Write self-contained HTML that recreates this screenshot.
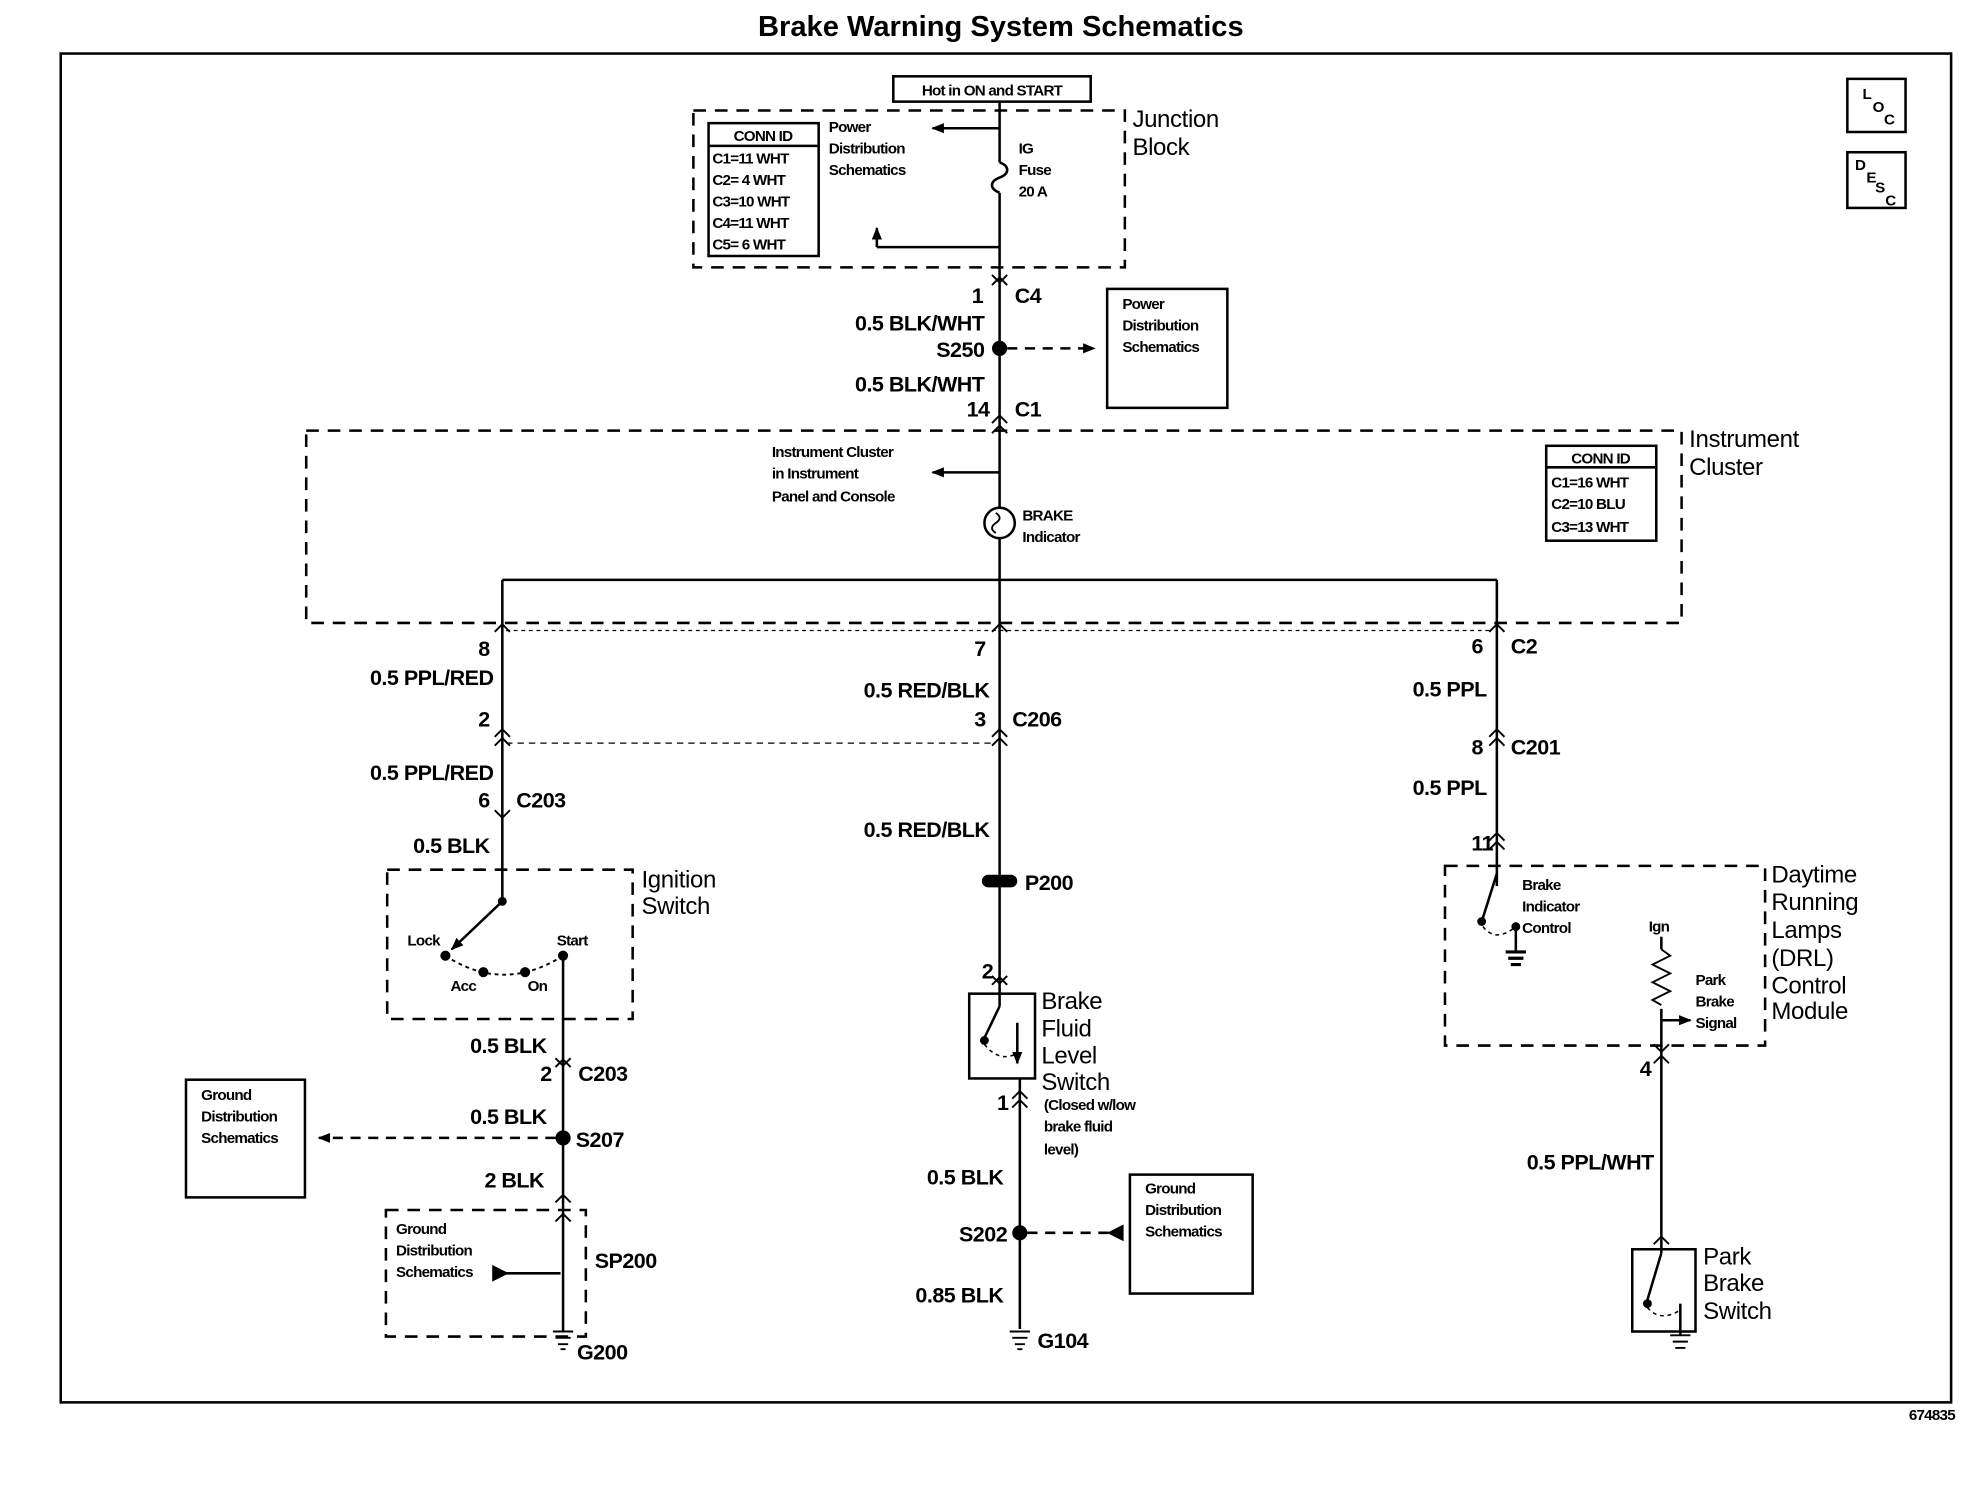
<!DOCTYPE html>
<html><head><meta charset="utf-8"><style>
html,body{margin:0;padding:0;background:#fff;}
svg{display:block;}
text{font-family:"Liberation Sans",Arial,sans-serif;fill:#000;}
.w{font-size:17px;font-weight:bold;letter-spacing:-0.4px;}
.s{font-size:12px;font-weight:bold;letter-spacing:-0.6px;}
.l{font-size:19px;letter-spacing:-0.3px;}
</style></head><body>
<svg width="1984" height="1504" viewBox="0 0 1568 1188" xmlns="http://www.w3.org/2000/svg">
<defs>
<marker id="ah" markerWidth="10" markerHeight="10" refX="9" refY="5" orient="auto" markerUnits="userSpaceOnUse"><path d="M0,1 L10,5 L0,9 Z" fill="#000"/></marker>
</defs>
<g stroke="#000" fill="none" stroke-width="2">
<text x="791" y="28" text-anchor="middle" font-size="23" font-weight="bold" stroke="none">Brake Warning System Schematics</text>
<rect x="48" y="42" width="1494" height="1066"/>
<rect x="1460" y="62" width="46" height="42"/>
<rect x="1460" y="120" width="46" height="44"/>
<rect x="706" y="60" width="156" height="20"/>
<rect x="548" y="87" width="341" height="124" stroke-dasharray="10,7"/>
<rect x="560" y="97" width="87" height="105"/>
<line x1="560" y1="115" x2="647" y2="115"/>
<line x1="790" y1="80" x2="790" y2="128"/>
<line x1="790" y1="101" x2="737" y2="101" marker-end="url(#ah)"/>
<path d="M790,128 c8,3 8,9 0,12 c-8,3 -8,9 0,12"/>
<line x1="790" y1="152" x2="790" y2="340"/>
<line x1="790" y1="195" x2="693" y2="195"/>
<line x1="693" y1="195" x2="693" y2="180" marker-end="url(#ah)"/>
<path d="M784,217 l6,6 l6,-6 M784,225 l6,-6 l6,6" stroke-width="1.5"/>
<circle cx="790" cy="275" r="5" fill="#000"/>
<line x1="796" y1="275" x2="865" y2="275" stroke-dasharray="8,6" marker-end="url(#ah)"/>
<rect x="875" y="228" width="95" height="94"/>
<path d="M784,334 l6,-6 l6,6 M784,342 l6,-6 l6,6" stroke-width="1.5"/>
<rect x="242" y="340" width="1087" height="152" stroke-dasharray="10,7"/>
<line x1="790" y1="340" x2="790" y2="401"/>
<line x1="790" y1="373" x2="737" y2="373" marker-end="url(#ah)"/>
<circle cx="790" cy="413" r="12"/>
<path d="M787,405 q6,4 0,8 q-6,4 0,8" stroke-width="1.5"/>
<line x1="790" y1="425" x2="790" y2="498"/>
<rect x="1222" y="352" width="87" height="75"/>
<line x1="1222" y1="369" x2="1309" y2="369"/>
<line x1="397" y1="458" x2="1183" y2="458"/>
<line x1="397" y1="458" x2="397" y2="712"/>
<line x1="1183" y1="458" x2="1183" y2="700"/>
<line x1="400" y1="498" x2="1180" y2="498" stroke-dasharray="3,3" stroke-width="1"/>
<path d="M391,499 l6,-6 l6,6 M784,499 l6,-6 l6,6 M1177,499 l6,-6 l6,6" stroke-width="1.5"/>
<line x1="790" y1="498" x2="790" y2="785"/>
<line x1="400" y1="587" x2="787" y2="587" stroke-dasharray="5,4" stroke-width="1"/>
<path d="M391,582 l6,-6 l6,6 M391,589 l6,-6 l6,6 M784,582 l6,-6 l6,6 M784,589 l6,-6 l6,6 M1177,582 l6,-6 l6,6 M1177,589 l6,-6 l6,6" stroke-width="1.5"/>
<path d="M391,640 l6,6 l6,-6 M1177,664 l6,-6 l6,6 M1177,671 l6,-6 l6,6" stroke-width="1.5"/>
<rect x="306" y="687" width="194" height="118" stroke-dasharray="10,7"/>
<circle cx="397" cy="712" r="2.5" fill="#000"/>
<line x1="397" y1="712" x2="357" y2="750" marker-end="url(#ah)"/>
<path d="M352,755 Q398,785 445,755" stroke-dasharray="3,3" stroke-width="1.5"/>
<circle cx="352" cy="755" r="3" fill="#000"/><circle cx="382" cy="768" r="3" fill="#000"/><circle cx="415" cy="768" r="3" fill="#000"/><circle cx="445" cy="755" r="3" fill="#000"/>
<line x1="445" y1="755" x2="445" y2="1052"/>
<path d="M439,836 l6,6 l6,-6 M439,843 l6,-6 l6,6 M439,950 l6,-6 l6,6" stroke-width="1.5"/>
<circle cx="445" cy="899" r="5" fill="#000"/>
<line x1="439" y1="899" x2="252" y2="899" stroke-dasharray="8,6" marker-end="url(#ah)"/>
<rect x="147" y="853" width="94" height="93"/>
<rect x="305" y="956" width="158" height="100" stroke-dasharray="10,7"/>
<path d="M439,965 l6,-6 l6,6" stroke-width="1.5"/>
<line x1="392" y1="1006" x2="443" y2="1006"/>
<path d="M390,1001 L400,1006 L390,1011 Z" fill="#000"/>
<path d="M437,1052 h16 M439,1057 h12 M441,1062 h8 M443,1066 h4" stroke-width="1.5"/>
<rect x="777" y="692" width="26" height="8" rx="4" fill="#000"/>
<path d="M784,771 l6,6 l6,-6 M784,778 l6,-6 l6,6" stroke-width="1.5"/>
<rect x="766" y="785" width="52" height="67"/>
<line x1="790" y1="785" x2="790" y2="795"/>
<line x1="790" y1="795" x2="778" y2="820"/>
<circle cx="778" cy="822" r="2.5" fill="#000"/>
<path d="M778,825 Q790,840 804,832" stroke-dasharray="3,3" stroke-width="1.2"/>
<line x1="804" y1="808" x2="804" y2="840" marker-end="url(#ah)"/>
<line x1="806" y1="852" x2="806" y2="1050"/>
<path d="M800,868 l6,-6 l6,6 M800,875 l6,-6 l6,6" stroke-width="1.5"/>
<circle cx="806" cy="974" r="5" fill="#000"/>
<line x1="812" y1="974" x2="885" y2="974" stroke-dasharray="8,6"/>
<path d="M887,969 L877,974 L887,979 Z" fill="#000"/>
<rect x="893" y="928" width="97" height="94"/>
<path d="M798,1052 h16 M800,1057 h12 M802,1062 h8 M804,1066 h4" stroke-width="1.5"/>
<rect x="1142" y="684" width="253" height="142" stroke-dasharray="10,7"/>
<line x1="1183" y1="690" x2="1172" y2="725"/>
<circle cx="1171" cy="728" r="2.5" fill="#000"/>
<path d="M1172,732 Q1182,745 1198,732" stroke-dasharray="3,3" stroke-width="1.2"/>
<circle cx="1198" cy="732" r="2.5" fill="#000"/>
<line x1="1198" y1="732" x2="1198" y2="752"/>
<path d="M1190,752 h16 M1192,757 h12 M1194,762 h8" stroke-width="2.5"/>
<line x1="1313" y1="740" x2="1313" y2="750"/>
<path d="M1313,750 l7,5 l-14,7 l14,7 l-14,7 l14,7 l-14,7 l7,4" stroke-width="1.5"/>
<line x1="1313" y1="797" x2="1313" y2="990"/>
<line x1="1313" y1="806" x2="1336" y2="806" marker-end="url(#ah)"/>
<path d="M1307,825 l6,6 l6,-6 M1307,840 l6,-6 l6,6 M1307,983 l6,-6 l6,6" stroke-width="1.5"/>
<rect x="1290" y="987" width="50" height="65"/>
<line x1="1313" y1="990" x2="1302" y2="1027"/>
<circle cx="1302" cy="1030" r="2.5" fill="#000"/>
<path d="M1302,1033 Q1312,1045 1328,1035" stroke-dasharray="3,3" stroke-width="1.2"/>
<line x1="1328" y1="1030" x2="1328" y2="1055"/>
<path d="M1320,1055 h16 M1322,1060 h12 M1324,1065 h8" stroke-width="1.5"/>
</g>
<g>
<text x="1472" y="78" class="s">L</text><text x="1480" y="88" class="s">O</text><text x="1489" y="98" class="s">C</text>
<text x="1466" y="134" class="s">D</text><text x="1475" y="144" class="s">E</text><text x="1482" y="152" class="s">S</text><text x="1490" y="162" class="s">C</text>
<text x="784" y="75" text-anchor="middle" class="s" font-size="13">Hot in ON and START</text>
<text x="603" y="111" text-anchor="middle" class="s">CONN ID</text>
<text x="563" y="129" class="s">C1=11 WHT</text><text x="563" y="146" class="s">C2= 4 WHT</text><text x="563" y="163" class="s">C3=10 WHT</text><text x="563" y="180" class="s">C4=11 WHT</text><text x="563" y="197" class="s">C5= 6 WHT</text>
<text x="655" y="104" class="s">Power</text><text x="655" y="121" class="s">Distribution</text><text x="655" y="138" class="s">Schematics</text>
<text x="805" y="121" class="s">IG</text><text x="805" y="138" class="s">Fuse</text><text x="805" y="155" class="s">20 A</text>
<text x="895" y="100" class="l">Junction</text><text x="895" y="122" class="l">Block</text>
<text x="777" y="239" text-anchor="end" class="w">1</text><text x="802" y="239" class="w">C4</text>
<text x="778" y="261" text-anchor="end" class="w">0.5 BLK/WHT</text>
<text x="778" y="282" text-anchor="end" class="w">S250</text>
<text x="887" y="244" class="s">Power</text><text x="887" y="261" class="s">Distribution</text><text x="887" y="278" class="s">Schematics</text>
<text x="778" y="309" text-anchor="end" class="w">0.5 BLK/WHT</text>
<text x="782" y="329" text-anchor="end" class="w">14</text><text x="802" y="329" class="w">C1</text>
<text x="1335" y="353" class="l">Instrument</text><text x="1335" y="375" class="l">Cluster</text>
<text x="610" y="361" class="s">Instrument Cluster</text><text x="610" y="378" class="s">in Instrument</text><text x="610" y="396" class="s">Panel and Console</text>
<text x="808" y="411" class="s">BRAKE</text><text x="808" y="428" class="s">Indicator</text>
<text x="1265" y="366" text-anchor="middle" class="s">CONN ID</text>
<text x="1226" y="385" class="s">C1=16 WHT</text><text x="1226" y="402" class="s">C2=10 BLU</text><text x="1226" y="420" class="s">C3=13 WHT</text>
<text x="387" y="518" text-anchor="end" class="w">8</text>
<text x="779" y="518" text-anchor="end" class="w">7</text>
<text x="1172" y="516" text-anchor="end" class="w">6</text><text x="1194" y="516" class="w">C2</text>
<text x="390" y="541" text-anchor="end" class="w">0.5 PPL/RED</text>
<text x="782" y="551" text-anchor="end" class="w">0.5 RED/BLK</text>
<text x="1175" y="550" text-anchor="end" class="w">0.5 PPL</text>
<text x="387" y="574" text-anchor="end" class="w">2</text>
<text x="779" y="574" text-anchor="end" class="w">3</text><text x="800" y="574" class="w">C206</text>
<text x="1172" y="596" text-anchor="end" class="w">8</text><text x="1194" y="596" class="w">C201</text>
<text x="390" y="616" text-anchor="end" class="w">0.5 PPL/RED</text>
<text x="1175" y="628" text-anchor="end" class="w">0.5 PPL</text>
<text x="387" y="638" text-anchor="end" class="w">6</text><text x="408" y="638" class="w">C203</text>
<text x="782" y="661" text-anchor="end" class="w">0.5 RED/BLK</text>
<text x="387" y="674" text-anchor="end" class="w">0.5 BLK</text>
<text x="1180" y="672" text-anchor="end" class="w">11</text>
<text x="507" y="701" class="l">Ignition</text><text x="507" y="722" class="l">Switch</text>
<text x="810" y="703" class="w">P200</text>
<text x="1400" y="697" class="l">Daytime</text><text x="1400" y="719" class="l">Running</text><text x="1400" y="741" class="l">Lamps</text><text x="1400" y="763" class="l">(DRL)</text><text x="1400" y="785" class="l">Control</text><text x="1400" y="805" class="l">Module</text>
<text x="1203" y="703" class="s">Brake</text><text x="1203" y="720" class="s">Indicator</text><text x="1203" y="737" class="s">Control</text>
<text x="1303" y="736" class="s">Ign</text>
<text x="1340" y="778" class="s">Park</text><text x="1340" y="795" class="s">Brake</text><text x="1340" y="812" class="s">Signal</text>
<text x="322" y="747" class="s">Lock</text><text x="440" y="747" class="s">Start</text><text x="356" y="783" class="s">Acc</text><text x="417" y="783" class="s">On</text>
<text x="785" y="773" text-anchor="end" class="w">2</text>
<text x="823" y="797" class="l">Brake</text><text x="823" y="819" class="l">Fluid</text><text x="823" y="840" class="l">Level</text><text x="823" y="861" class="l">Switch</text>
<text x="825" y="877" class="s">(Closed w/low</text><text x="825" y="894" class="s">brake fluid</text><text x="825" y="912" class="s">level)</text>
<text x="797" y="877" text-anchor="end" class="w">1</text>
<text x="432" y="832" text-anchor="end" class="w">0.5 BLK</text>
<text x="436" y="854" text-anchor="end" class="w">2</text><text x="457" y="854" class="w">C203</text>
<text x="1305" y="850" text-anchor="end" class="w">4</text>
<text x="159" y="869" class="s">Ground</text><text x="159" y="886" class="s">Distribution</text><text x="159" y="903" class="s">Schematics</text>
<text x="432" y="888" text-anchor="end" class="w">0.5 BLK</text>
<text x="455" y="906" class="w">S207</text>
<text x="1307" y="924" text-anchor="end" class="w">0.5 PPL/WHT</text>
<text x="793" y="936" text-anchor="end" class="w">0.5 BLK</text>
<text x="430" y="938" text-anchor="end" class="w">2 BLK</text>
<text x="905" y="943" class="s">Ground</text><text x="905" y="960" class="s">Distribution</text><text x="905" y="977" class="s">Schematics</text>
<text x="313" y="975" class="s">Ground</text><text x="313" y="992" class="s">Distribution</text><text x="313" y="1009" class="s">Schematics</text>
<text x="796" y="981" text-anchor="end" class="w">S202</text>
<text x="1346" y="999" class="l">Park</text><text x="1346" y="1020" class="l">Brake</text><text x="1346" y="1042" class="l">Switch</text>
<text x="470" y="1002" class="w">SP200</text>
<text x="793" y="1029" text-anchor="end" class="w">0.85 BLK</text>
<text x="820" y="1065" class="w">G104</text>
<text x="456" y="1074" class="w">G200</text>
<text x="1545" y="1122" text-anchor="end" class="s" font-size="11">674835</text>
</g>
</svg>
</body></html>
